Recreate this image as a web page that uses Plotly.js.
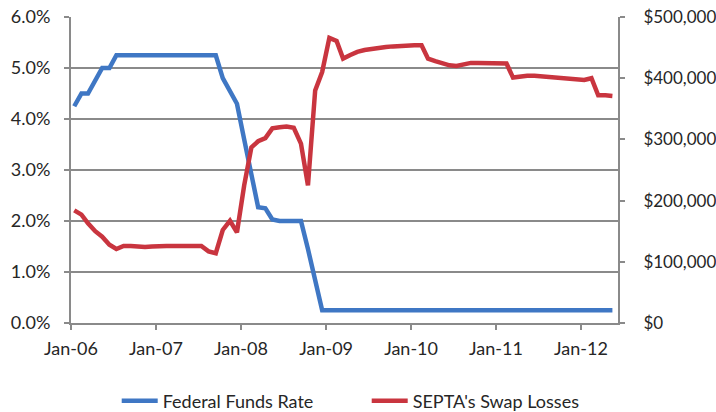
<!DOCTYPE html>
<html>
<head>
<meta charset="utf-8">
<script src="https://cdn.plot.ly/plotly-3.0.1.min.js"></script>
<style>html,body{margin:0;padding:0;background:#fff;}#chart{width:716px;height:412px;}</style>
</head>
<body>
<div id="chart"></div>
<script>
// Monthly observations, Jan 2006 .. May 2012 (mid-month)
const startYear = 2006, startMonth = 1, nMonths = 77;
const months = [];
for (let i = 0; i < nMonths; i++) {
  const y = startYear + Math.floor((startMonth - 1 + i) / 12);
  const m = ((startMonth - 1 + i) % 12) + 1;
  months.push(y + '-' + String(m).padStart(2, '0') + '-15');
}

// Federal Funds Rate (%)
const fedFundsRate = [
  4.25, 4.5, 4.5, 4.75, 5.0, 5.0, 5.25, 5.25, 5.25, 5.25, 5.25, 5.25,
  5.25, 5.25, 5.25, 5.25, 5.25, 5.25, 5.25, 5.25, 5.25, 4.8, 4.55, 4.3,
  3.6, 2.95, 2.27, 2.25, 2.03, 2.0, 2.0, 2.0, 2.0, 1.45, 0.85, 0.25,
  0.25, 0.25, 0.25, 0.25, 0.25, 0.25, 0.25, 0.25, 0.25, 0.25, 0.25, 0.25,
  0.25, 0.25, 0.25, 0.25, 0.25, 0.25, 0.25, 0.25, 0.25, 0.25, 0.25, 0.25,
  0.25, 0.25, 0.25, 0.25, 0.25, 0.25, 0.25, 0.25, 0.25, 0.25, 0.25, 0.25,
  0.25, 0.25, 0.25, 0.25, 0.25
];

// SEPTA's Swap Losses ($)
const swapLosses = [
  184000, 177000, 163000, 150000, 141000, 128000, 121000, 126000, 126000, 125000, 124000, 125000,
  126000, 126000, 126000, 126000, 126000, 126000, 126000, 117000, 114000, 152000, 167000, 148000,
  225000, 287000, 297000, 302000, 318000, 320000, 321000, 319000, 293000, 225000, 380000, 410000,
  466000, 461000, 432000, 438000, 443000, 446000, 448000, 450000, 451000, 452000, 453000, 454000,
  454000, 454000, 432000, 428000, 424000, 421000, 420000, 422000, 425000, 425000, 425000, 425000,
  425000, 424000, 401000, 403000, 404000, 404000, 403000, 402000, 400000, 400000, 399000, 397000,
  397000, 400000, 372000, 372000, 371000
];

const seriesNames = ['Federal Funds Rate', "SEPTA's Swap Losses"];
const seriesColors = ['#3F77C4', '#C9353F'];

const fontFamily = 'Lato, "Open Sans", sans-serif';
const gridColor = '#8a8a8a';
const textColor = '#262626';

const traces = [
  {
    x: months, y: fedFundsRate, name: seriesNames[0], type: 'scatter', mode: 'lines',
    line: {color: seriesColors[0], width: 4.5}, yaxis: 'y'
  },
  {
    x: months, y: swapLosses, name: seriesNames[1], type: 'scatter', mode: 'lines',
    line: {color: seriesColors[1], width: 4.5}, yaxis: 'y2'
  }
];

const layout = {
  width: 716, height: 412,
  margin: {l: 71, r: 98, t: 17, b: 89, pad: 0, autoexpand: false},
  paper_bgcolor: '#ffffff', plot_bgcolor: '#ffffff',
  font: {family: fontFamily, size: 18, color: textColor},
  showlegend: true,
  legend: {
    orientation: 'h', xref: 'container', x: 0.163, xanchor: 'left',
    yref: 'container', y: 11 / 412, yanchor: 'middle',
    entrywidth: 199, entrywidthmode: 'pixels', itemwidth: 36,
    font: {family: fontFamily, size: 18, color: textColor}, bgcolor: 'rgba(0,0,0,0)'
  },
  xaxis: {
    type: 'date', range: ['2006-01-01', '2012-06-08'],
    tick0: '2006-01-01', dtick: 'M12', tickformat: '%b-%y',
    showgrid: false, zeroline: false, automargin: false,
    showline: true, linecolor: gridColor, linewidth: 2,
    ticks: 'outside', ticklen: 5, tickcolor: gridColor, tickwidth: 2,
    ticklabelstandoff: 3,
    tickfont: {family: fontFamily, size: 18, color: textColor}
  },
  yaxis: {
    range: [0, 6], dtick: 1, tick0: 0, tickformat: '.1f', ticksuffix: '%',
    showgrid: true, gridcolor: gridColor, gridwidth: 1.5, automargin: false,
    zeroline: false, showline: true, linecolor: gridColor, linewidth: 2,
    ticks: 'outside', ticklen: 5, tickcolor: gridColor, tickwidth: 2,
    ticklabelstandoff: 10,
    tickfont: {family: fontFamily, size: 18, color: textColor}
  },
  yaxis2: {
    overlaying: 'y', side: 'right', automargin: false,
    range: [0, 500000], dtick: 100000, tick0: 0, tickformat: ',.0f', tickprefix: '$',
    showgrid: false, zeroline: false, showline: true, linecolor: gridColor, linewidth: 2,
    ticks: 'outside', ticklen: 5, tickcolor: gridColor, tickwidth: 2,
    ticklabelstandoff: 15,
    tickfont: {family: fontFamily, size: 17, color: textColor}
  }
};

Plotly.newPlot('chart', traces, layout, {staticPlot: true, displayModeBar: false});
</script>
</body>
</html>
